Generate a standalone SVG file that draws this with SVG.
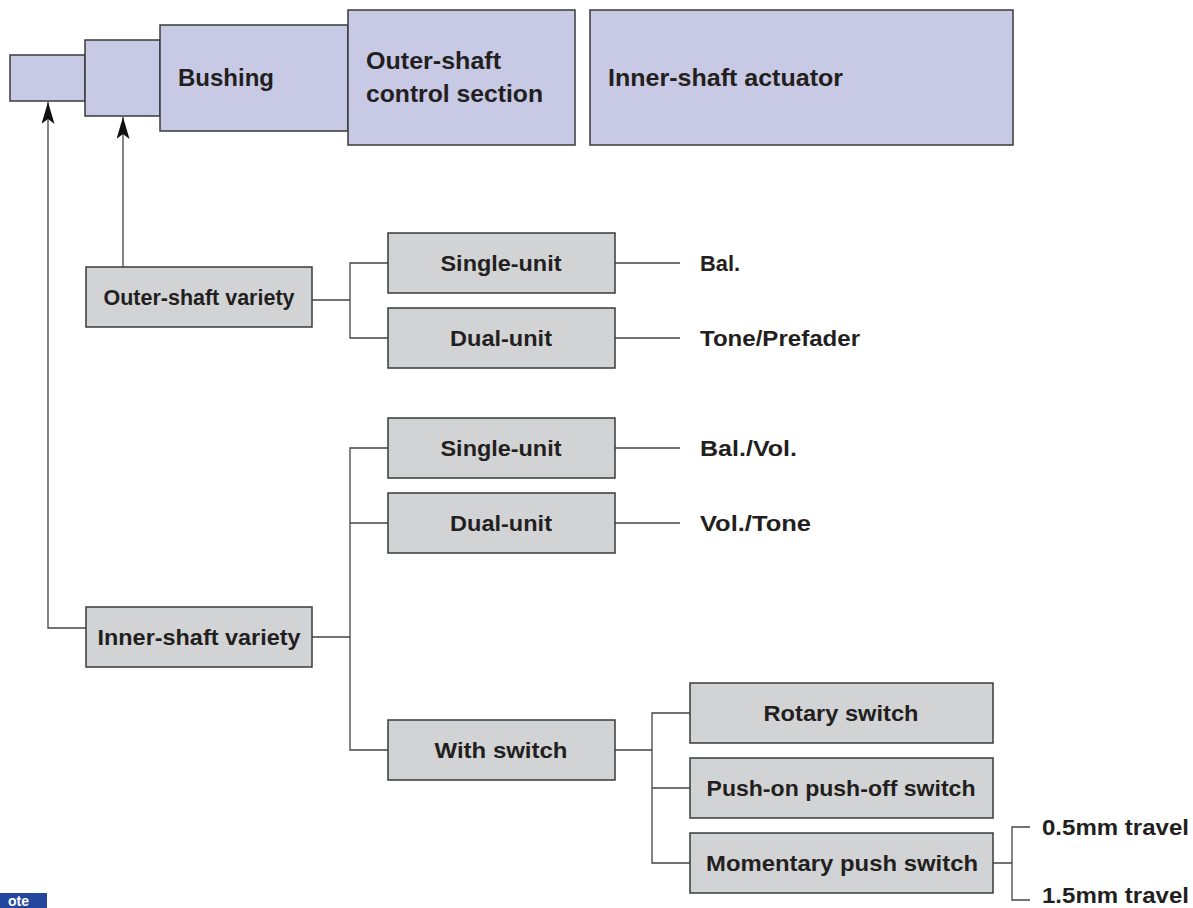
<svg xmlns="http://www.w3.org/2000/svg" width="1193" height="908" viewBox="0 0 1193 908">
<style>
.top{fill:#c8c9e4;stroke:#3a3a3a;stroke-width:1.5}
.box{fill:#d2d3d5;stroke:#3a3a3a;stroke-width:1.5}
.ln{fill:none;stroke:#444;stroke-width:1.3}
text{font-family:"Liberation Sans",Arial,sans-serif;font-weight:bold;fill:#231f20}
.t1{font-size:24px}
.t2{font-size:22.5px}
.c{text-anchor:middle}
</style>
<defs>
<marker id="arr" viewBox="0 0 22 13" refX="22" refY="6.5" markerWidth="22" markerHeight="13" markerUnits="userSpaceOnUse" orient="auto">
<path d="M22,6.5 L0,0 L5,6.5 L0,13 Z" fill="#111"/>
</marker>
</defs>
<rect width="1193" height="908" fill="#fff"/>
<g id="part1"><rect class="top" x="10" y="55" width="75" height="46"/></g>
<g id="part2"><rect class="top" x="85" y="40" width="75" height="76"/></g>
<g id="bushing"><rect class="top" x="160" y="25" width="188" height="106"/><text class="t1" x="178" y="86" textLength="96" lengthAdjust="spacingAndGlyphs">Bushing</text></g>
<g id="outer-control"><rect class="top" x="348" y="10" width="227" height="135"/><text class="t1" x="366" y="69" textLength="135" lengthAdjust="spacingAndGlyphs">Outer-shaft</text><text class="t1" x="366" y="102" textLength="177" lengthAdjust="spacingAndGlyphs">control section</text></g>
<g id="inner-actuator"><rect class="top" x="590" y="10" width="423" height="135"/><text class="t1" x="608" y="86" textLength="235" lengthAdjust="spacingAndGlyphs">Inner-shaft actuator</text></g>

<g id="connectors">
<path class="ln" d="M123,267 V117" marker-end="url(#arr)"/>
<path class="ln" d="M87,628 H48 V102" marker-end="url(#arr)"/>
<path class="ln" d="M312,300 H350 M388,263 H350 V338 H388"/>
<path class="ln" d="M615,263 H680 M615,338 H680"/>
<path class="ln" d="M312,637 H350 M388,448 H350 V750 H388 M350,523 H388"/>
<path class="ln" d="M615,448 H680 M615,523 H680"/>
<path class="ln" d="M615,750 H652 M690,713 H652 V863 H690 M652,788 H690"/>
<path class="ln" d="M993,863 H1012 M1030,827 H1012 V900 H1030"/>
</g>

<g id="outer-variety"><rect class="box" x="86" y="267" width="226" height="60"/><text class="t2 c" x="199" y="305" textLength="191" lengthAdjust="spacingAndGlyphs">Outer-shaft variety</text></g>
<g id="o-single"><rect class="box" x="388" y="233" width="227" height="60"/><text class="t2 c" x="501" y="271" textLength="121" lengthAdjust="spacingAndGlyphs">Single-unit</text></g>
<g id="o-dual"><rect class="box" x="388" y="308" width="227" height="60"/><text class="t2 c" x="501" y="346" textLength="102" lengthAdjust="spacingAndGlyphs">Dual-unit</text></g>
<g id="l-bal"><text class="t2" x="700" y="271" textLength="40" lengthAdjust="spacingAndGlyphs">Bal.</text></g>
<g id="l-tone"><text class="t2" x="700" y="346" textLength="160" lengthAdjust="spacingAndGlyphs">Tone/Prefader</text></g>

<g id="i-single"><rect class="box" x="388" y="418" width="227" height="60"/><text class="t2 c" x="501" y="456" textLength="121" lengthAdjust="spacingAndGlyphs">Single-unit</text></g>
<g id="i-dual"><rect class="box" x="388" y="493" width="227" height="60"/><text class="t2 c" x="501" y="531" textLength="102" lengthAdjust="spacingAndGlyphs">Dual-unit</text></g>
<g id="l-balvol"><text class="t2" x="700" y="456" textLength="97" lengthAdjust="spacingAndGlyphs">Bal./Vol.</text></g>
<g id="l-voltone"><text class="t2" x="700" y="531" textLength="111" lengthAdjust="spacingAndGlyphs">Vol./Tone</text></g>

<g id="inner-variety"><rect class="box" x="86" y="607" width="226" height="60"/><text class="t2 c" x="199" y="645" textLength="203" lengthAdjust="spacingAndGlyphs">Inner-shaft variety</text></g>
<g id="with-switch"><rect class="box" x="388" y="720" width="227" height="60"/><text class="t2 c" x="501" y="758" textLength="133" lengthAdjust="spacingAndGlyphs">With switch</text></g>
<g id="rotary"><rect class="box" x="690" y="683" width="303" height="60"/><text class="t2 c" x="841" y="721" textLength="155" lengthAdjust="spacingAndGlyphs">Rotary switch</text></g>
<g id="pushon"><rect class="box" x="690" y="758" width="303" height="60"/><text class="t2 c" x="841" y="796" textLength="269" lengthAdjust="spacingAndGlyphs">Push-on push-off switch</text></g>
<g id="momentary"><rect class="box" x="690" y="833" width="303" height="60"/><text class="t2 c" x="842" y="871" textLength="272" lengthAdjust="spacingAndGlyphs">Momentary push switch</text></g>
<g id="l-05"><text class="t2" x="1042" y="835" textLength="147" lengthAdjust="spacingAndGlyphs">0.5mm travel</text></g>
<g id="l-15"><text class="t2" x="1042" y="903" textLength="147" lengthAdjust="spacingAndGlyphs">1.5mm travel</text></g>

<g id="note"><rect x="0" y="893" width="47" height="15" fill="#22479c"/><text x="8" y="906" font-size="14" style="fill:#fff">ote</text></g>
</svg>
